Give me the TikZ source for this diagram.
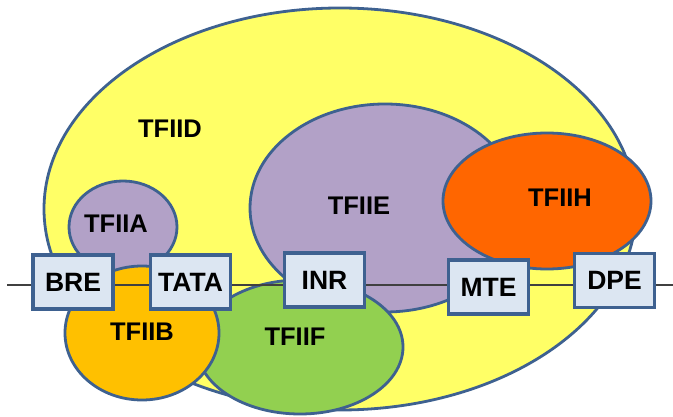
\documentclass[tikz,border=0pt]{standalone}
\usepackage{fontspec}
\setmainfont{Liberation Sans}
\definecolor{yel}{HTML}{FFFF66}
\definecolor{purp}{HTML}{B2A1C7}
\definecolor{orng}{HTML}{FF6600}
\definecolor{gold}{HTML}{FFC000}
\definecolor{grn}{HTML}{92D050}
\definecolor{boxfill}{HTML}{DCE6F2}
\definecolor{edge}{HTML}{3E6190}
\definecolor{linec}{HTML}{404040}
\tikzset{
  blob/.style={draw=edge, line width=2.8pt},
  lbl/.style={font=\bfseries\fontsize{25.5}{30}\selectfont, inner sep=0pt},
  sitebox/.style={draw=edge, line width=3.2pt, fill=boxfill, minimum width=80pt, minimum height=54pt, inner sep=0pt, font=\bfseries\fontsize{26.5}{31}\selectfont},
}
\begin{document}
\begin{tikzpicture}[x=1pt,y=-1pt]
\useasboundingbox (0,0) rectangle (673,417);
% ellipses
\path[blob, fill=yel] (340,209) ellipse [x radius=296, y radius=201];
\path[blob, fill=purp] (385,208) ellipse [x radius=135, y radius=104];
\path[blob, fill=orng] (547,201) ellipse [x radius=104, y radius=68];
\path[blob, fill=purp] (123,227) ellipse [x radius=54, y radius=46];
\path[blob, fill=grn] (300,347) ellipse [x radius=103, y radius=67];
\path[blob, fill=gold] (142,333) ellipse [x radius=77, y radius=67];
% labels
\node[lbl] (lD) at (170,129) {TFIID};
\node[lbl] (lE) at (359,206) {TFIIE};
\node[lbl] (lH) at (560,198) {TFIIH};
\node[lbl] (lA) at (116,224) {TFIIA};
\node[lbl] (lB) at (142,332) {TFIIB};
\node[lbl] (lF) at (295,337) {TFIIF};
% DNA line
\coordinate (L) at (7,285);
\coordinate (R) at (673,285);
\draw[linec, line width=1.6pt] (L) -- (R);
% boxes
\node[sitebox] (bre) at (73,282) {BRE};
\node[sitebox] (tata) at (190.5,282) {TATA};
\node[sitebox] (inr) at (324.5,280) {INR};
\node[sitebox] (mte) at (488.5,287) {MTE};
\node[sitebox] (dpe) at (614.5,280.5) {DPE};
\end{tikzpicture}
\end{document}
